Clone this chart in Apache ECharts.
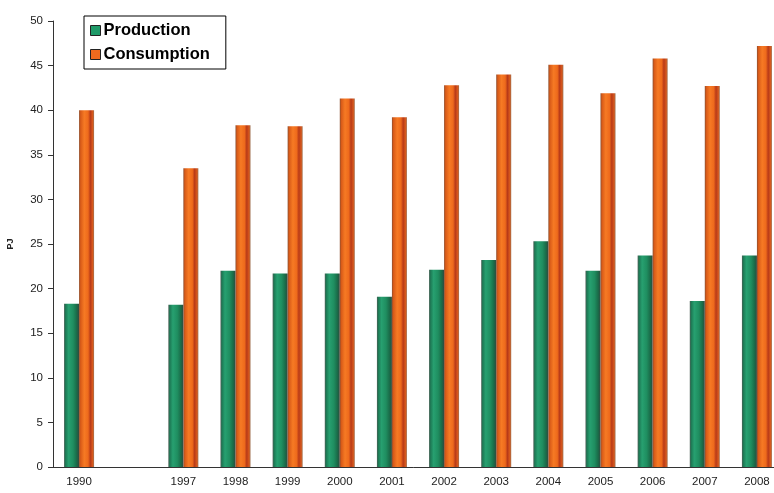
<!DOCTYPE html>
<html>
<head>
<meta charset="utf-8">
<script src="https://cdn.jsdelivr.net/npm/echarts@6/dist/echarts.min.js"></script>
<style>
  html, body { margin: 0; padding: 0; background: #fff; }
  #chart { width: 774px; height: 493px; }
</style>
</head>
<body>
<div id="chart"></div>
<script>
// years on the x axis, the blank one is the gap between 1990 and 1997
var years = ['1990', '', '1997', '1998', '1999', '2000', '2001', '2002', '2003', '2004', '2005', '2006', '2007', '2008']
var production = [18.3, null, 18.2, 22.0, 21.7, 21.7, 19.1, 22.1, 23.2, 25.3, 22.0, 23.7, 18.6, 23.7]
var consumption = [40.0, null, 33.5, 38.3, 38.2, 41.3, 39.2, 42.8, 44.0, 45.1, 41.9, 45.8, 42.7, 47.2]
var yTicks = { min: 0, max: 50, step: 5 }

// shaded "cylinder" look of the old excel bars
function shade(stops) {
  return new echarts.graphic.LinearGradient(0, 0, 1, 0, stops.map(function (s) {
    return { offset: s[0], color: s[1] }
  }))
}
var greenFill = shade([
  [0, '#4a5e55'], [0.1, '#1d7a55'], [0.3, '#27a070'], [0.6, '#1f8e60'], [0.85, '#1a6a48'], [1, '#34483e']
])
var orangeFill = shade([
  [0, '#8a4e30'], [0.1, '#d85a18'], [0.35, '#f67a24'], [0.6, '#ee6a1c'], [0.75, '#b83a18'], [0.9, '#d8581c'], [1, '#a07050']
])

var chart = echarts.init(document.getElementById('chart'))
chart.setOption({
  animation: false,
  grid: {
    left: 53,
    right: -9, // the last category is cut off by the image edge
    top: 21,
    bottom: 26,
    outerBoundsMode: 'none'
  },
  legend: {
    orient: 'vertical',
    left: 84,
    top: 16,
    padding: [6, 16, 6, 6],
    itemGap: 7,
    itemWidth: 10,
    itemHeight: 10,
    borderColor: '#000',
    borderWidth: 1,
    borderRadius: 0,
    textStyle: {
      fontFamily: 'Liberation Sans',
      fontStyle: 'normal',
      fontWeight: 'bold',
      fontSize: 16.5,
      color: '#000',
      padding: [0, 0, 0, -2]
    },
    data: [
      { name: 'Production', icon: 'rect', itemStyle: { color: '#1f9a68', borderColor: '#222', borderWidth: 1 } },
      { name: 'Consumption', icon: 'rect', itemStyle: { color: '#f06a1e', borderColor: '#222', borderWidth: 1 } }
    ]
  },
  xAxis: {
    type: 'category',
    data: years,
    axisLine: { lineStyle: { color: '#333' } },
    axisTick: { length: 5, lineStyle: { color: '#333' } },
    axisLabel: {
      interval: 0,
      margin: 9,
      color: '#222',
      fontFamily: 'Liberation Sans',
      fontSize: 11.5
    }
  },
  yAxis: {
    type: 'value',
    min: yTicks.min,
    max: yTicks.max,
    interval: yTicks.step,
    name: 'PJ',
    nameLocation: 'middle',
    nameGap: 38,
    nameTextStyle: {
      fontFamily: 'Liberation Sans',
      fontWeight: 'bold',
      fontSize: 9,
      color: '#222'
    },
    axisLine: { show: true, lineStyle: { color: '#333' } },
    axisTick: { show: true, length: 5, lineStyle: { color: '#333' } },
    splitLine: { show: false },
    axisLabel: {
      margin: 10,
      color: '#222',
      fontFamily: 'Liberation Sans',
      fontSize: 11.5
    }
  },
  series: [
    {
      name: 'Production',
      type: 'bar',
      data: production,
      barWidth: 15,
      barGap: '0%',
      itemStyle: { color: greenFill }
    },
    {
      name: 'Consumption',
      type: 'bar',
      data: consumption,
      barWidth: 15,
      itemStyle: { color: orangeFill }
    }
  ]
})
</script>
</body>
</html>
